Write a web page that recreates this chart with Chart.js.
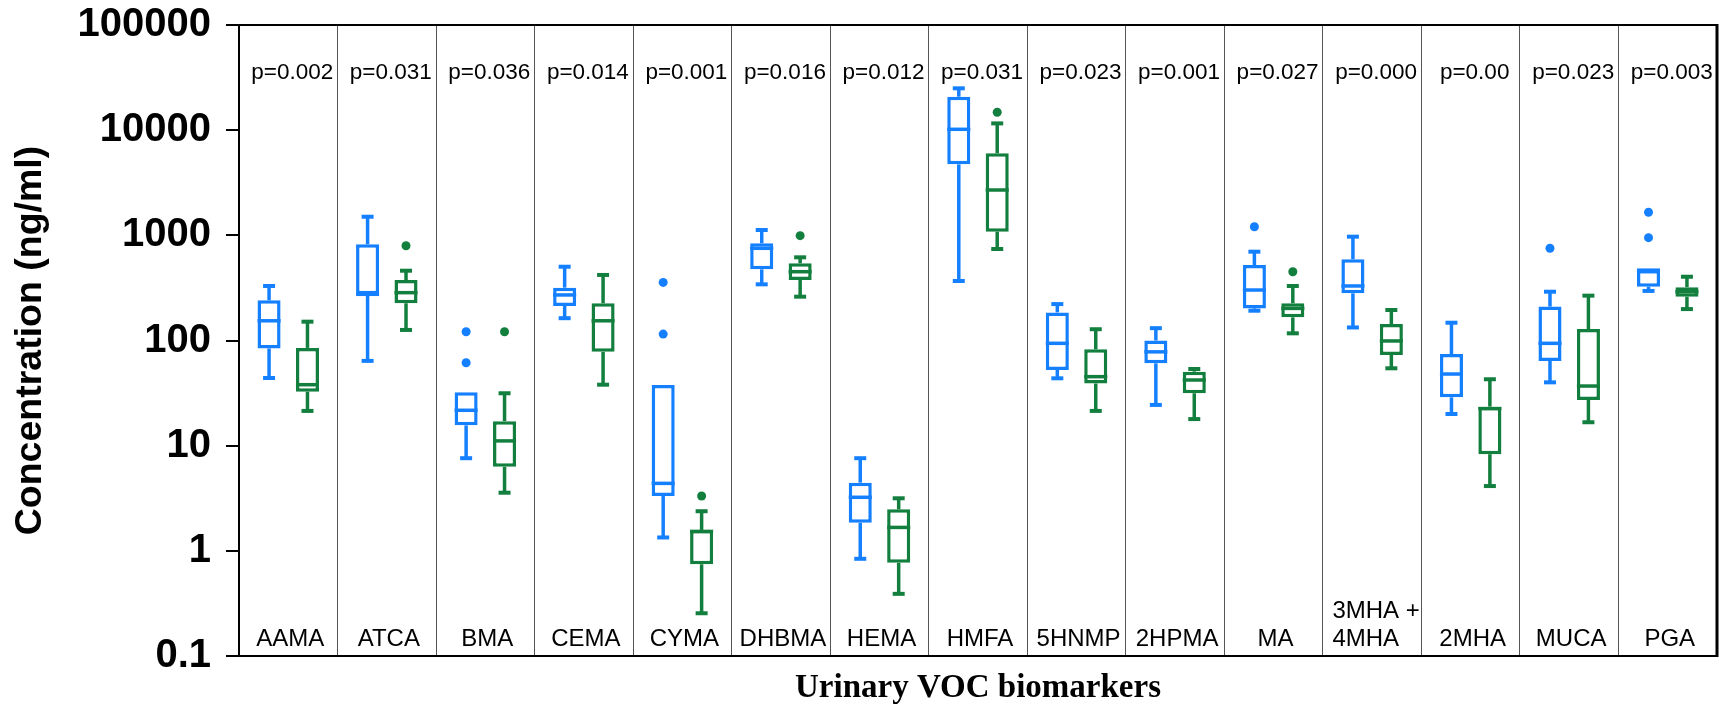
<!DOCTYPE html>
<html>
<head>
<meta charset="utf-8">
<title>Urinary VOC biomarkers</title>
<script src="https://cdn.jsdelivr.net/npm/chart.js@4.4.1/dist/chart.umd.min.js"></script>
<style>
  html, body { margin: 0; padding: 0; background: #fff; }
  #wrap { width: 1719px; height: 705px; position: relative; }
</style>
</head>
<body>
<div id="wrap"><canvas id="graph1"></canvas></div>
<script>
// categories and p-values
var categories = ['AAMA', 'ATCA', 'BMA', 'CEMA', 'CYMA', 'DHBMA', 'HEMA', 'HMFA', '5HNMP', '2HPMA', 'MA', ['3MHA +', '4MHA'], '2MHA', 'MUCA', 'PGA'];
var pValues = ['p=0.002', 'p=0.031', 'p=0.036', 'p=0.014', 'p=0.001', 'p=0.016', 'p=0.012', 'p=0.031', 'p=0.023', 'p=0.001', 'p=0.027', 'p=0.000', 'p=0.00', 'p=0.023', 'p=0.003'];
var yTicks = [0.1, 1, 10, 100, 1000, 10000, 100000];

// blue group
var blueMin = [44, 64, 7.6, 163, 1.34, 342, 0.84, 368, 43.7, 24.4, 192, 133, 20, 40, 296];
var blueQ1  = [84, 275, 15.6, 213, 3.32, 475, 1.85, 4730, 52.4, 60.7, 202, 281, 28.8, 64, 325];
var blueMed = [154, 275, 21.7, 271, 4.38, 753, 3.23, 10190, 94, 78, 302, 330, 48, 94, 451];
var blueQ3  = [241, 822, 32.2, 318, 37.7, 840, 4.45, 20800, 185, 100, 522, 592, 74.4, 210, 486];
var blueMax = [330, 1503, 32.2, 503, 37.7, 1124, 7.6, 25000, 222, 131, 699, 971, 147.6, 291, 486];
var blueOut = [[], [], [121, 61.5], [], [357, 115], [], [], [], [], [], [1208], [], [], [753], [1656, 950]];

// green group
var greenMin = [21.4, 126, 3.57, 38, 0.255, 261, 0.39, 741, 21.4, 17.9, 117, 54.4, 4.13, 16.7, 199];
var greenQ1  = [32.6, 226, 6.3, 78, 0.745, 376, 0.77, 1083, 39, 31.5, 166, 72.8, 8.3, 27.2, 261];
var greenMed = [38, 285, 11.1, 154, 1.53, 451, 1.67, 2698, 45.3, 42.1, 202, 99, 22.5, 36.9, 291];
var greenQ3  = [85, 376, 17.1, 226, 1.58, 542, 2.48, 6025, 82.4, 50.5, 226, 143.6, 23.5, 128.6, 321];
var greenMax = [151, 461, 31.5, 420, 2.38, 618, 3.16, 11600, 128, 53.6, 330, 195, 42.8, 267, 404];
var greenOut = [[], [797], [121], [], [3.32], [993], [], [14790], [], [], [451], [], [], [], []];

var blue = '#1580ff';
var green = '#137f3e';

var groups = [
    { color: blue, min: blueMin, q1: blueQ1, med: blueMed, q3: blueQ3, max: blueMax, out: blueOut },
    { color: green, min: greenMin, q1: greenQ1, med: greenMed, q3: greenQ3, max: greenMax, out: greenOut }
];

function boxData(q1, q3) {
    return q1.map(function (v, i) { return [v, q3[i]]; });
}

function line(ctx, x1, y1, x2, y2) {
    ctx.beginPath();
    ctx.moveTo(x1, y1);
    ctx.lineTo(x2, y2);
    ctx.stroke();
}

// whiskers, caps, medians and outliers on top of the floating bars
var whiskerPlugin = {
    id: 'whiskers',
    afterDatasetsDraw: function (chart) {
        var ctx = chart.ctx;
        var y = chart.scales.y;
        groups.forEach(function (g, di) {
            var meta = chart.getDatasetMeta(di);
            meta.data.forEach(function (bar, i) {
                var x = bar.x, w = bar.width;
                var yq1 = y.getPixelForValue(g.q1[i]);
                var yq3 = y.getPixelForValue(g.q3[i]);
                var ymin = y.getPixelForValue(g.min[i]);
                var ymax = y.getPixelForValue(g.max[i]);
                var ymed = y.getPixelForValue(g.med[i]);
                ctx.save();
                ctx.strokeStyle = g.color;
                ctx.fillStyle = g.color;
                ctx.lineWidth = 3.5;
                if (ymax < yq3 - 1) line(ctx, x, yq3, x, ymax);
                if (ymin > yq1 + 1) line(ctx, x, yq1, x, ymin);
                ctx.lineWidth = 4;
                if (ymax < yq3 - 1) line(ctx, x - 6, ymax, x + 6, ymax);
                if (ymin > yq1 + 1) line(ctx, x - 6, ymin, x + 6, ymin);
                ctx.lineWidth = 3.5;
                line(ctx, x - w / 2, ymed, x + w / 2, ymed);
                g.out[i].forEach(function (v) {
                    ctx.beginPath();
                    ctx.arc(x, y.getPixelForValue(v), 4.5, 0, Math.PI * 2);
                    ctx.fill();
                });
                ctx.restore();
            });
        });
    },
    afterDraw: function (chart) {
        var ctx = chart.ctx;
        var xs = chart.scales.x;
        var area = chart.chartArea;
        ctx.save();
        // frame
        ctx.strokeStyle = '#000';
        ctx.lineWidth = 2;
        line(ctx, area.left, area.top, area.right, area.top);
        ctx.lineWidth = 3;
        line(ctx, area.right, area.top - 1, area.right, area.bottom + 1);
        // p-values
        ctx.fillStyle = '#000';
        ctx.font = '22.5px "Liberation Sans", Arial, sans-serif';
        ctx.textAlign = 'center';
        ctx.textBaseline = 'alphabetic';
        pValues.forEach(function (p, i) {
            ctx.fillText(p, xs.getPixelForValue(i) + 4, area.top + 54);
        });
        // category names inside the plot
        ctx.font = '24px "Liberation Sans", Arial, sans-serif';
        categories.forEach(function (c, i) {
            var x = xs.getPixelForValue(i);
            var base = area.bottom - 10;
            if (Array.isArray(c)) {
                var wMax = Math.max.apply(null, c.map(function (s) { return ctx.measureText(s).width; }));
                ctx.textAlign = 'left';
                for (var k = c.length - 1; k >= 0; k--) {
                    ctx.fillText(c[k], x - wMax / 2 + 4, base - (c.length - 1 - k) * 28);
                }
                ctx.textAlign = 'center';
            } else {
                ctx.fillText(c, x + 2, base);
            }
        });
        ctx.restore();
    }
};

var ctx = document.getElementById('graph1').getContext('2d');

var data = {
    labels: categories,
    datasets: groups.map(function (g) {
        return {
            data: boxData(g.q1, g.q3),
            backgroundColor: '#ffffff',
            borderColor: g.color,
            borderWidth: 3.5,
            borderSkipped: false,
            categoryPercentage: 0.78,
            barPercentage: 0.6
        };
    })
};

var config = {
    type: 'bar',
    data: data,
    options: {
        responsive: true,
        maintainAspectRatio: false,
        devicePixelRatio: 1,
        animation: false,
        layout: { padding: { top: 25, right: 2, left: 0, bottom: 0 } },
        plugins: {
            legend: { display: false },
            tooltip: { enabled: false }
        },
        scales: {
            x: {
                type: 'category',
                offset: true,
                afterFit: function (s) { s.height = 49; },
                ticks: { display: false },
                grid: {
                    display: true,
                    offset: true,
                    drawOnChartArea: true,
                    drawTicks: false,
                    color: '#555',
                    lineWidth: 1
                },
                border: { display: true, color: '#000', width: 2 },
                title: {
                    display: true,
                    text: 'Urinary VOC biomarkers',
                    color: '#000',
                    font: { family: '"Liberation Serif", "Times New Roman", serif', size: 33, weight: 'bold', lineHeight: 1.0 },
                    padding: { top: 0, bottom: 0 }
                }
            },
            y: {
                type: 'logarithmic',
                min: 0.1,
                max: 100000,
                afterFit: function (s) {
                    s.width = 239;
                    s.paddingTop = 0;
                    s.paddingBottom = 0;
                },
                afterBuildTicks: function (s) {
                    s.ticks = yTicks.map(function (v) { return { value: v }; });
                },
                ticks: {
                    color: '#000',
                    padding: 15,
                    font: { family: '"Liberation Sans", Arial, sans-serif', size: 40, weight: 'bold' },
                    callback: function (v) { return String(v); }
                },
                grid: {
                    drawOnChartArea: false,
                    drawTicks: true,
                    tickLength: 13,
                    color: '#000',
                    lineWidth: 2
                },
                border: { display: true, color: '#000', width: 2 },
                title: {
                    display: true,
                    text: 'Concentration (ng/ml)',
                    color: '#000',
                    font: { family: '"Liberation Sans", Arial, sans-serif', size: 37.5, weight: 'bold' },
                    padding: { top: 8, bottom: 0 }
                }
            }
        }
    },
    plugins: [whiskerPlugin]
};

var graph1 = new Chart(ctx, config);
</script>
</body>
</html>
